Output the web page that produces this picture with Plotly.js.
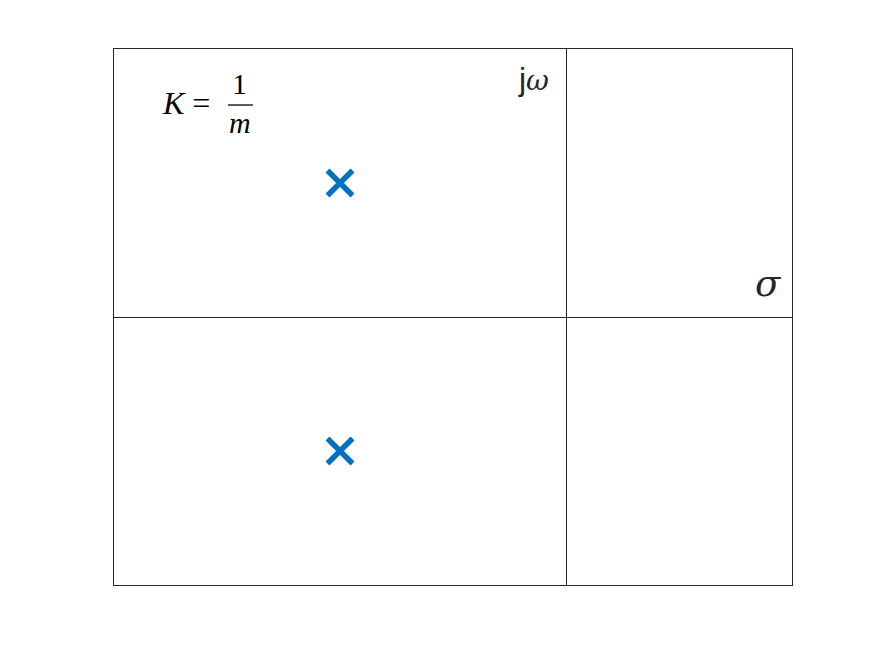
<!DOCTYPE html>
<html><head><meta charset="utf-8">
<script src="https://cdn.plot.ly/plotly-3.0.1.min.js"></script>
<style>body{margin:0;background:#fff}#plot{width:875px;height:656px}</style>
</head><body><div id="plot"></div>
<script>
// Pole locations (s-plane)
const poleReal = [-1, -1];
const poleImag = [1, -1];
const xRange = [-2, 1];
const yRange = [-2, 2];

const serif = 'Liberation Serif';
const greek = 'DejaVu Serif';
const data = [{
  x: poleReal, y: poleImag, mode: 'markers', type: 'scatter',
  marker: {symbol: 'x-thin-open', size: 25, color: '#0072BD', line: {width: 5.5, color: '#0072BD'}},
  hoverinfo: 'skip', showlegend: false
}];
const ax = {
  showgrid: false, showticklabels: false, ticks: '',
  zeroline: true, zerolinecolor: '#262626', zerolinewidth: 1,
  showline: true, mirror: true, linecolor: '#262626', linewidth: 1
};
const layout = {
  width: 875, height: 656,
  margin: {l: 114, r: 83, t: 49, b: 71},
  paper_bgcolor: '#fff', plot_bgcolor: '#fff',
  xaxis: Object.assign({}, ax, {range: xRange}),
  yaxis: Object.assign({}, ax, {range: yRange}),
  shapes: [{type: 'line', xref: 'paper', yref: 'paper', x0: 0.168, x1: 0.205, y0: 0.8955, y1: 0.8955, line: {color: '#000', width: 1.3}}],
  annotations: [
    {xref: 'paper', yref: 'paper', x: 0.0678, y: 0.899, xanchor: 'left', yanchor: 'middle', showarrow: false,
     text: '<i>K</i>&nbsp;=', font: {family: serif, size: 32, color: '#000'}},
    {xref: 'paper', yref: 'paper', x: 0.1858, y: 0.935, xanchor: 'center', yanchor: 'middle', showarrow: false,
     text: '1', font: {family: serif, size: 30, color: '#000'}},
    {xref: 'paper', yref: 'paper', x: 0.1858, y: 0.862, xanchor: 'center', yanchor: 'middle', showarrow: false,
     text: '<i>m</i>', font: {family: serif, size: 30, color: '#000'}},
    {xref: 'paper', yref: 'paper', x: 0.6445, y: 0.944, xanchor: 'right', yanchor: 'middle', showarrow: false,
     text: '<span style="font-family:Liberation Sans;font-size:32px">j</span><i>ω</i>', font: {family: greek, size: 28, color: '#262626'}},
    {xref: 'paper', yref: 'paper', x: 0.988, y: 0.5634, xanchor: 'right', yanchor: 'middle', showarrow: false,
     text: '<i>σ</i>', font: {family: greek, size: 37, color: '#262626'}}
  ]
};
Plotly.newPlot('plot', data, layout, {staticPlot: true, displayModeBar: false});
</script></body></html>
